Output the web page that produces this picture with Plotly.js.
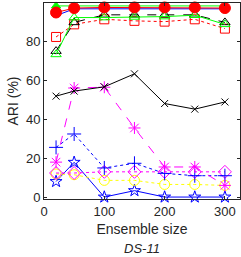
<!DOCTYPE html>
<html><head><meta charset="utf-8">
<script src="https://cdn.plot.ly/plotly-3.0.1.min.js"></script>
<style>body{margin:0;padding:0;background:#fff}#chart{width:241px;height:257px}</style>
</head><body><div id="chart"></div>
<script>
const ensembleSizes = [20, 50, 100, 150, 200, 250, 300];
const greenFilled = [98.5, 98.5, 98.5, 98.5, 98.5, 98.5, 98.5];
const blueSolid = [93.5, 97, 97, 97, 97, 97, 97];
const redCircle = [95.1, 97.4, 97.7, 97.7, 97.7, 97.7, 97.4];
const blackDashTri = [75.2, 90, 93.9, 93.9, 93.9, 93.9, 90];
const greenOpenTri = [73.5, 92.5, 92.5, 92.8, 93, 93.7, 89];
const redSquare = [82.5, 89, 91.6, 90.8, 90.4, 91.6, 86.8];
const blackX = [52, 54.6, 56.8, 63.5, 48.2, 45.3, 49];
const magentaStar = [18, 56.2, 56.6, 35.6, 15.5, 15.5, 6];
const bluePlus = [25.6, 32.5, 15, 17.4, 12.2, 11, 11];
const magentaDiamond = [12.4, 12.4, 13, 13, 13, 13, 13];
const yellowCircle = [11.9, 11.5, 8.6, 8.6, 6.5, 6.5, 6];
const blueStar = [8, 17.9, 0, 3.3, 0, 0, 0];
const xTicks = [0, 100, 200, 300];
const yTicks = [0, 20, 40, 60, 80, 100];

function tr(y, color, dash, symbol, size, width, mcolor) {
  return {x: ensembleSizes, y: y, mode: 'lines+markers', type: 'scatter',
    line: {color: color, dash: dash, width: width || 1},
    marker: {symbol: symbol, size: size, color: mcolor || color, line: {color: mcolor || color, width: 1}},
    cliponaxis: false, showlegend: false, hoverinfo: 'skip'};
}
const data = [
  tr(blueStar, '#0000ff', 'solid', 'star-open', 9),
  tr(yellowCircle, '#ffff00', 'dot', 'circle-open', 10),
  tr(magentaDiamond, '#ff00ff', 'dot', 'diamond-open', 10),
  tr(bluePlus, '#0000ff', 'dot', 'cross-thin-open', 10),
  tr(magentaStar, '#ff00ff', 'dash', 'asterisk-open', 10),
  tr(blackX, '#000000', 'solid', 'x-thin-open', 7),
  tr(redSquare, '#ff0000', 'dot', 'square-open', 9),
  tr(blackDashTri, '#000000', 'dash', 'triangle-up-open', 9),
  tr(greenOpenTri, '#00ff00', 'solid', 'triangle-up-open', 9),
  tr(greenFilled, '#00ff00', 'solid', 'triangle-up', 8),
  tr(blueSolid, '#0000ff', 'solid', 'circle', 3),
  tr(redCircle, '#ff0000', 'solid', 'circle', 11)
];
const axFont = {family: 'Liberation Sans, Arial, sans-serif', size: 13, color: '#262626'};
const layout = {
  width: 241, height: 257,
  margin: {l: 44, r: 1, t: 3, b: 58},
  paper_bgcolor: '#fff', plot_bgcolor: '#fff',
  xaxis: {range: [0, 325], tickvals: xTicks, ticktext: xTicks.map(String),
    ticks: 'inside', ticklen: 3, tickcolor: '#262626', showgrid: false, zeroline: false,
    showline: true, linecolor: '#262626', linewidth: 1, mirror: 'ticks',
    tickfont: axFont,
    title: {text: 'Ensemble size', font: {family: 'Liberation Sans, Arial, sans-serif', size: 14, color: '#262626'}, standoff: 6}},
  yaxis: {range: [-1, 100], tickvals: yTicks, ticktext: yTicks.map(String),
    ticks: 'inside', ticklen: 3, tickcolor: '#262626', showgrid: false, zeroline: false,
    showline: true, linecolor: '#262626', linewidth: 1, mirror: 'ticks',
    tickfont: axFont,
    title: {text: 'ARI (%)', font: {family: 'Liberation Sans, Arial, sans-serif', size: 14, color: '#262626'}, standoff: 4}},
  annotations: [{text: '<i>DS-11</i>', xref: 'paper', yref: 'paper', x: 0.5, y: -0.255,
    xanchor: 'center', yanchor: 'middle', showarrow: false,
    font: {family: 'Liberation Sans, Arial, sans-serif', size: 13, color: '#262626'}}]
};
Plotly.newPlot('chart', data, layout, {displayModeBar: false, staticPlot: true});
</script></body></html>
